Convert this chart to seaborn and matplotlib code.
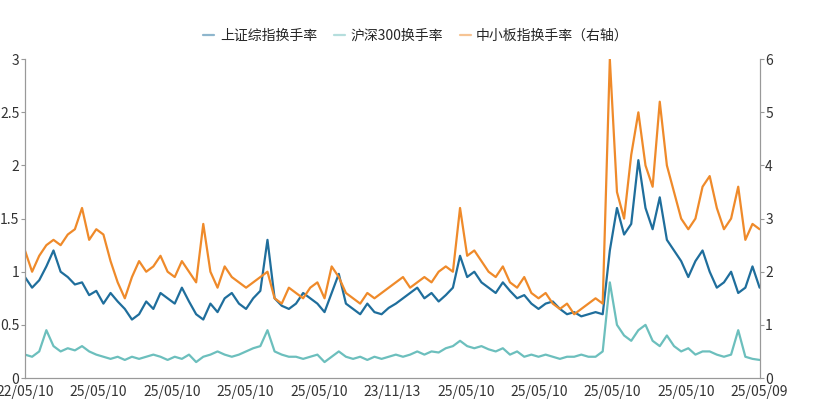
import numpy as np
import matplotlib
matplotlib.use("Agg")
import matplotlib.pyplot as plt
import seaborn as sns

sns.set_style("white")
plt.rcParams['font.family'] = ['Noto Sans CJK SC', 'DejaVu Sans']

# Left axis: 上证综指, 沪深300 ; right axis: 中小板指
sh_turnover = [0.95, 0.85, 0.92, 1.05, 1.2, 1.0, 0.95, 0.88,
               0.9, 0.78, 0.82, 0.7, 0.8, 0.72, 0.65, 0.55,
               0.6, 0.72, 0.65, 0.8, 0.75, 0.7, 0.85, 0.72,
               0.6, 0.55, 0.7, 0.62, 0.75, 0.8, 0.7, 0.65,
               0.75, 0.82, 1.3, 0.75, 0.68, 0.65, 0.7, 0.8,
               0.75, 0.7, 0.62, 0.8, 0.98, 0.7, 0.65, 0.6,
               0.7, 0.62, 0.6, 0.66, 0.7, 0.75, 0.8, 0.85,
               0.75, 0.8, 0.72, 0.78, 0.85, 1.15, 0.95, 1.0,
               0.9, 0.85, 0.8, 0.9, 0.82, 0.75, 0.78, 0.7,
               0.65, 0.7, 0.72, 0.65, 0.6, 0.62, 0.58, 0.6,
               0.62, 0.6, 1.2, 1.6, 1.35, 1.45, 2.05, 1.6,
               1.4, 1.7, 1.3, 1.2, 1.1, 0.95, 1.1, 1.2,
               1.0, 0.85, 0.9, 1.0, 0.8, 0.85, 1.05, 0.85]
hs300_turnover = [0.22, 0.2, 0.25, 0.45, 0.3, 0.25, 0.28, 0.26,
                  0.3, 0.25, 0.22, 0.2, 0.18, 0.2, 0.17, 0.2,
                  0.18, 0.2, 0.22, 0.2, 0.17, 0.2, 0.18, 0.22,
                  0.15, 0.2, 0.22, 0.25, 0.22, 0.2, 0.22, 0.25,
                  0.28, 0.3, 0.45, 0.25, 0.22, 0.2, 0.2, 0.18,
                  0.2, 0.22, 0.15, 0.2, 0.25, 0.2, 0.18, 0.2,
                  0.17, 0.2, 0.18, 0.2, 0.22, 0.2, 0.22, 0.25,
                  0.22, 0.25, 0.24, 0.28, 0.3, 0.35, 0.3, 0.28,
                  0.3, 0.27, 0.25, 0.28, 0.22, 0.25, 0.2, 0.22,
                  0.2, 0.22, 0.2, 0.18, 0.2, 0.2, 0.22, 0.2,
                  0.2, 0.25, 0.9, 0.5, 0.4, 0.35, 0.45, 0.5,
                  0.35, 0.3, 0.4, 0.3, 0.25, 0.28, 0.22, 0.25,
                  0.25, 0.22, 0.2, 0.22, 0.45, 0.2, 0.18, 0.17]
sme_turnover = [2.4, 2.0, 2.3, 2.5, 2.6, 2.5, 2.7, 2.8,
                3.2, 2.6, 2.8, 2.7, 2.2, 1.8, 1.5, 1.9,
                2.2, 2.0, 2.1, 2.3, 2.0, 1.9, 2.2, 2.0,
                1.8, 2.9, 2.0, 1.7, 2.1, 1.9, 1.8, 1.7,
                1.8, 1.9, 2.0, 1.5, 1.4, 1.7, 1.6, 1.5,
                1.7, 1.8, 1.5, 2.1, 1.9, 1.6, 1.5, 1.4,
                1.6, 1.5, 1.6, 1.7, 1.8, 1.9, 1.7, 1.8,
                1.9, 1.8, 2.0, 2.1, 2.0, 3.2, 2.3, 2.4,
                2.2, 2.0, 1.9, 2.1, 1.8, 1.7, 1.9, 1.6,
                1.5, 1.6, 1.4, 1.3, 1.4, 1.2, 1.3, 1.4,
                1.5, 1.4, 6.0, 3.5, 3.0, 4.2, 5.0, 4.0,
                3.6, 5.2, 4.0, 3.5, 3.0, 2.8, 3.0, 3.6,
                3.8, 3.2, 2.8, 3.0, 3.6, 2.6, 2.9, 2.8]
tick_labels = ['22/05/10', '25/05/10', '25/05/10', '25/05/10', '25/05/10', '23/11/13',
               '25/05/10', '25/05/10', '25/05/10', '25/05/10', '25/05/09']

c_blue, c_teal, c_orange = '#1f6e9c', '#6cbfbd', '#ef8a2a'
idx = np.arange(len(sh_turnover))

fig, ax = plt.subplots(figsize=(8.32, 4.0), dpi=100)
fig.subplots_adjust(left=0.03, right=0.913, bottom=0.055, top=0.852)
ax2 = ax.twinx()

sns.lineplot(x=idx, y=sh_turnover, ax=ax, color=c_blue, lw=1.6, label='上证综指换手率', legend=False)
sns.lineplot(x=idx, y=hs300_turnover, ax=ax, color=c_teal, lw=1.6, label='沪深300换手率', legend=False)
sns.lineplot(x=idx, y=sme_turnover, ax=ax2, color=c_orange, lw=1.6, label='中小板指换手率（右轴）', legend=False)

ax.set_ylim(0, 3)
ax2.set_ylim(0, 6)
ax.set_xlim(0, len(idx) - 1)
ax.set_yticks([0, 0.5, 1, 1.5, 2, 2.5, 3])
ax.set_yticklabels(['0', '0.5', '1', '1.5', '2', '2.5', '3'])
ax2.set_yticks(range(7))
ax.set_xticks(np.linspace(0, len(idx) - 1, len(tick_labels)))
ax.set_xticklabels(tick_labels)

for a in (ax, ax2):
    for s in ('left', 'right', 'bottom'):
        a.spines[s].set_color('#999999')
        a.spines[s].set_linewidth(0.8)
    a.spines['top'].set_visible(False)
    a.tick_params(labelsize=10, colors='#333333', length=3, color='#999999', pad=1)
ax.tick_params(axis='x', direction='out', length=4)

h1, l1 = ax.get_legend_handles_labels()
h2, l2 = ax2.get_legend_handles_labels()
leg = fig.legend(h1 + h2, l1 + l2, loc='upper center', bbox_to_anchor=(0.5, 0.96), ncol=3,
                 frameon=False, fontsize=10, handlelength=0.8, columnspacing=1.2, handletextpad=0.4)
for h in leg.legend_handles:
    h.set_alpha(0.5)

fig.savefig('out.png', dpi=100)
